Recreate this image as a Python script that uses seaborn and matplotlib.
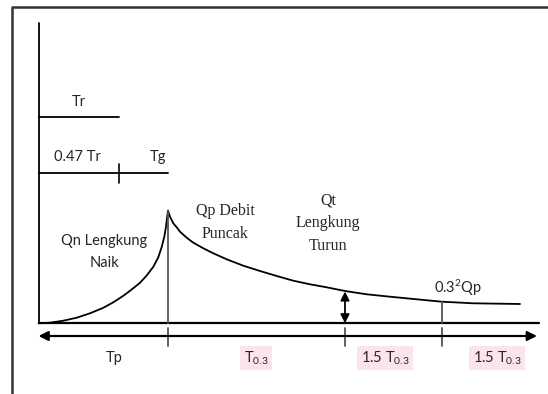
import numpy as np
import pandas as pd
import matplotlib
matplotlib.use("Agg")
import matplotlib.pyplot as plt
import seaborn as sns

# schematic units: t to the right of the Q axis, q above the base line
t_rise = [0, 11.5, 24.8, 38.2, 51.5, 64.8, 74.8, 84.8, 91.5, 101.5, 108.2,
          114.8, 119.8, 123.2, 125.8, 127.5, 128.5, 129.5]
q_rise = [0, 0.6, 2.6, 5.6, 10, 15.5, 21, 27.5, 32.5, 40.5, 47.8,
          56.5, 66, 76.2, 86.6, 96.6, 105, 112.6]

t_fall = [129.5, 131.5, 134.8, 138.2, 141.5, 148.2, 154.8, 164.8, 174.8, 188.2,
          204.8, 221.5, 238.2, 254.8, 271.5, 288.2, 306.5, 328.2, 351.5, 378.2,
          403.2, 434.8, 481.5]
q_fall = [112.6, 106.6, 100, 96, 91.6, 85.6, 80.6, 75, 70, 64,
          57.6, 52.3, 47.3, 42.6, 39, 36, 32.3, 29, 26.6, 24,
          21.6, 20, 19.3]

t_marks = [129.5, 306.5, 403.2]   # Tp, Tp+T0.3, Tp+T0.3+1.5T0.3
seg_labels = ["Tp", "T$_{0.3}$", "1.5 T$_{0.3}$", "1.5 T$_{0.3}$"]
seg_centers = [75.5, 217.5, 346.5, 458.5]
seg_pink = [False, True, True, True]

tr_len = 80.5
tr_level = 206.3
tg_level = 150.3

sns.set_style("white")
plt.rcParams["font.family"] = ["Lato", "DejaVu Sans"]
plt.rcParams["mathtext.fontset"] = "custom"
plt.rcParams["mathtext.rm"] = "Lato"
plt.rcParams["mathtext.it"] = "Lato"
plt.rcParams["mathtext.default"] = "regular"

fig = plt.figure(figsize=(5.48, 3.94), dpi=100)
ax = fig.add_axes([0, 0, 1, 1])
ax.set_xlim(-38.5, 509.5)
ax.set_ylim(-70.7, 323.3)
ax.axis("off")

rise = pd.DataFrame({"t": t_rise, "q": q_rise})
fall = pd.DataFrame({"t": t_fall, "q": q_fall})
sns.lineplot(data=rise, x="t", y="q", ax=ax, color="black", lw=1.3, sort=False)
sns.lineplot(data=fall, x="t", y="q", ax=ax, color="black", lw=1.3, sort=False)

# outer frame (cut off at right and bottom)
ax.plot([-26.5, -26.5, 509.5], [-70.7, 316.3, 316.3], color="#333333", lw=1.8)

# axes of the hydrograph
ax.plot([0, 0], [0, 300], color="black", lw=1.3)
ax.plot([0, 500.5], [0, 0], color="black", lw=1.6)

# peak line and 0.3^2 Qp line
ax.plot([t_marks[0]] * 2, [0, q_rise[-1]], color="#555555", lw=1.3)
ax.plot([t_marks[2]] * 2, [0, 21.6], color="#555555", lw=1.3)

# time arrow
ax.annotate("", xy=(498.5, -12.7), xytext=(0, -12.7),
            arrowprops=dict(arrowstyle="<|-|>", color="black", lw=1.6,
                            mutation_scale=14, shrinkA=0, shrinkB=0))
for tm in t_marks:
    ax.plot([tm, tm], [-4.7, -22.3], color="#555555", lw=1.3)

# Qt double arrow
ax.annotate("", xy=(306.5, 31.8), xytext=(306.5, 0),
            arrowprops=dict(arrowstyle="<|-|>", color="black", lw=1.3,
                            mutation_scale=13, shrinkA=0, shrinkB=0))

# Tr, 0.47 Tr, Tg
ax.plot([0, tr_len], [tr_level, tr_level], color="black", lw=1.3)
ax.plot([0, t_marks[0]], [tg_level, tg_level], color="black", lw=1.3)
ax.plot([tr_len, tr_len], [tg_level - 9.5, tg_level + 9.5], color="black", lw=1.2)

fs = 10.5
ax.text(40.5, 221, "Tr", ha="center", va="center", fontsize=fs)
ax.text(38.5, 166, "0.47 Tr", ha="center", va="center", fontsize=fs)
ax.text(119.5, 166, "Tg", ha="center", va="center", fontsize=fs)

ax.text(65.5, 71.5, "Qn Lengkung\nNaik", ha="center", va="center",
        fontsize=fs, linespacing=1.7)
ax.text(186.5, 101, "Qp Debit\nPuncak", ha="center", va="center",
        fontsize=11.5, family=["Liberation Serif"], linespacing=1.6)
ax.text(289.5, 100, "Qt\nLengkung\nTurun", ha="center", va="center",
        fontsize=11.5, family=["Liberation Serif"], linespacing=1.55)
ax.text(419.5, 35, "0.3$^{2}$Qp", ha="center", va="center", fontsize=fs)

for lab, cx, pink in zip(seg_labels, seg_centers, seg_pink):
    bbox = dict(facecolor="#fce4ec", edgecolor="none", pad=2.5) if pink else None
    ax.text(cx, -34.7, lab, ha="center", va="center", fontsize=fs, bbox=bbox)

fig.savefig("out.png", dpi=100)
